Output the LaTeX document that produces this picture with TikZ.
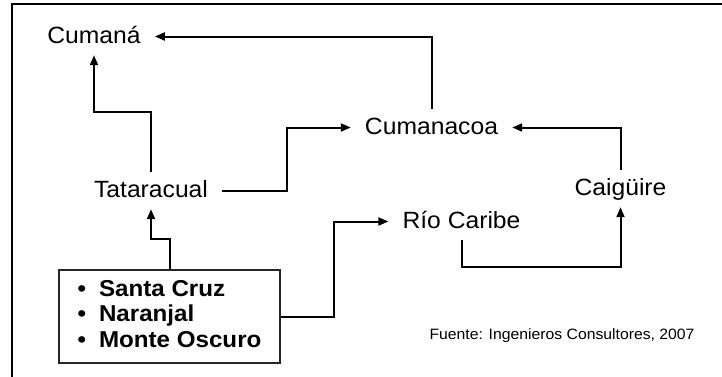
\documentclass[tikz,border=0pt]{standalone}
\usepackage{fontspec}
\setmainfont{Liberation Sans}[FakeStretch=1.05]
\usetikzlibrary{arrows.meta}
\begin{document}
\begin{tikzpicture}[x=1pt,y=-1pt,
  place/.style={anchor=base,font=\fontsize{23.5}{26}\selectfont,text height=17pt,text depth=4pt,inner xsep=14pt,inner ysep=8pt},
  arr/.style={line width=2pt,-{Triangle[length=10pt,width=8pt]}},
  srcbox/.style={draw=black!85,line width=1.3pt,minimum width=221pt,minimum height=93pt,inner sep=0pt,font=\fontsize{23}{25.5}\selectfont\bfseries},
  note/.style={anchor=base,font=\fontsize{15}{17}\selectfont,inner sep=0pt}]
\useasboundingbox (0,0) rectangle (722,376);
\fill[white] (0,0) rectangle (722,376);
\draw[line width=2.6pt] (12,4) rectangle (740,390);

\node[place] (cumana) at (94,43) {Cumaná};
\node[place] (cumanacoa) at (431.5,134) {Cumanacoa};
\node[place] (tat) at (151,197) {Tataracual};
\node[place] (caig) at (620.5,195) {Caigüire};
\node[place] (rio) at (461.5,228) {Río Caribe};
\node[srcbox] (src) at (169.5,316.5) {\begin{tabular}{@{}l@{\hspace{13pt}}l@{}}\textbullet & Santa Cruz\\ \textbullet & Naranjal\\ \textbullet & Monte Oscuro\end{tabular}};
\node[note] (fuente) at (562,339) {Fuente: Ingenieros Consultores, 2007};

\coordinate (k1) at (94,112);
\coordinate (k2) at (287,160);
\coordinate (k3) at (170,239);
\coordinate (k5) at (334,260);
\coordinate (k6) at (500,267);

\draw[arr] (cumanacoa.north) |- (cumana.east);
\draw[arr] (tat.north) |- (k1) -- (cumana.south);
\draw[arr] (tat.east) -- (tat.east -| k2) -- (k2 |- cumanacoa.west) -- (cumanacoa.west);
\draw[arr] (src.north -| k3) -- (k3) -- (tat.south |- k3) -- (tat.south);
\draw[arr] (src.east) -- (src.east -| k5) -- (k5 |- rio.west) -- (rio.west);
\draw[arr] (rio.south) -- (rio.south |- k6) -- (caig.south |- k6) -- (caig.south);
\draw[arr] (caig.north) |- (cumanacoa.east);
\end{tikzpicture}
\end{document}
